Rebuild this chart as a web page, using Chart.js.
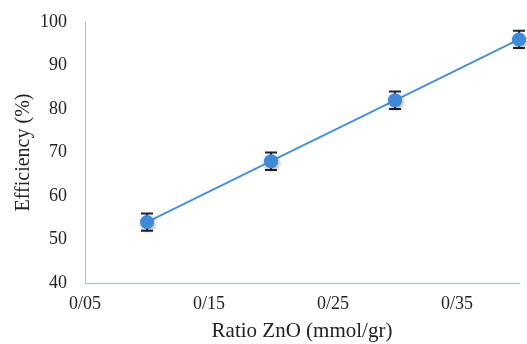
<!DOCTYPE html>
<html>
<head>
<meta charset="utf-8">
<script src="https://cdn.jsdelivr.net/npm/chart.js@4"></script>
<style>
  html, body { margin: 0; padding: 0; background: #fff; }
  #wrap { width: 527px; height: 344px; }
</style>
</head>
<body>
<div id="wrap"><canvas id="chart" width="527" height="344"></canvas></div>
<script>
// values
const ratios = [0.1, 0.2, 0.3, 0.4];
const efficiency = [54, 68, 82, 96];
const errors = [2, 2, 2, 2];
const xTickValues = [0.05, 0.15, 0.25, 0.35];
const yTickValues = [40, 50, 60, 70, 80, 90, 100];

// draw the error bars through the chart scales
const errorBars = {
	id: 'errorBars',
	afterDatasetsDraw(chart) {
		const ctx = chart.ctx;
		const xs = chart.scales.x, ys = chart.scales.y;
		ctx.save();
		ctx.strokeStyle = '#1f2430';
		ctx.lineWidth = 2;
		ratios.forEach((r, i) => {
			const px = xs.getPixelForValue(r);
			const top = ys.getPixelForValue(efficiency[i] + errors[i]);
			const bot = ys.getPixelForValue(efficiency[i] - errors[i]);
			ctx.beginPath();
			ctx.moveTo(px, top); ctx.lineTo(px, bot);
			ctx.moveTo(px - 6, top); ctx.lineTo(px + 6, top);
			ctx.moveTo(px - 6, bot); ctx.lineTo(px + 6, bot);
			ctx.stroke();
		});
		ctx.restore();
		// redraw the markers on top of the bars
		const meta = chart.getDatasetMeta(0);
		ctx.save();
		ctx.shadowColor = 'rgba(0,0,0,0.35)';
		ctx.shadowBlur = 4;
		ctx.shadowOffsetX = 1;
		ctx.shadowOffsetY = 2;
		meta.data.forEach(pt => {
			ctx.beginPath();
			ctx.arc(pt.x, pt.y, 7, 0, Math.PI * 2);
			ctx.fillStyle = '#3d8ad6';
			ctx.fill();
		});
		ctx.restore();
	}
};

const serif = "'Liberation Serif', 'Times New Roman', serif";

new Chart(document.getElementById('chart').getContext('2d'), {
	type: 'scatter',
	data: {
		datasets: [{
			data: ratios.map((r, i) => ({ x: r, y: efficiency[i] })),
			showLine: true,
			borderColor: '#4a90d9',
			borderWidth: 2,
			pointRadius: 0,
			pointHoverRadius: 0,
			clip: false
		}]
	},
	options: {
		responsive: false,
		animation: false,
		layout: { padding: { top: 22, right: 8, left: 0, bottom: 0 } },
		plugins: { legend: { display: false }, tooltip: { enabled: false } },
		scales: {
			x: {
				type: 'linear',
				min: 0.05,
				max: 0.40,
				afterBuildTicks: axis => { axis.ticks = xTickValues.map(v => ({ value: v })); },
				afterFit: axis => { axis.height = 61; },
				grid: { display: false, drawTicks: false },
				border: { color: '#a9bbd3', width: 1 },
				ticks: {
					padding: 10,
					color: '#222',
					font: { family: serif, size: 18 },
					maxRotation: 0,
					callback: v => v.toFixed(2).replace('.', '/')
				},
				title: {
					display: true,
					text: 'Ratio ZnO (mmol/gr)',
					color: '#222',
					font: { family: serif, size: 21 },
					padding: { top: 4, bottom: 0 }
				}
			},
			y: {
				min: 40,
				max: 100,
				afterBuildTicks: axis => { axis.ticks = yTickValues.map(v => ({ value: v })); },
				afterFit: axis => {
					axis.width = 85;
					axis.paddingTop = 0;
					axis.paddingBottom = 0;
				},
				grid: { display: false, drawTicks: false },
				border: { color: '#a9bbd3', width: 1 },
				ticks: {
					padding: 18,
					color: '#222',
					font: { family: serif, size: 18 }
				},
				title: {
					display: true,
					text: 'Efficiency (%)',
					color: '#222',
					font: { family: serif, size: 20 },
					padding: { top: 12, bottom: 0 }
				}
			}
		}
	},
	plugins: [errorBars]
});
</script>
</body>
</html>
